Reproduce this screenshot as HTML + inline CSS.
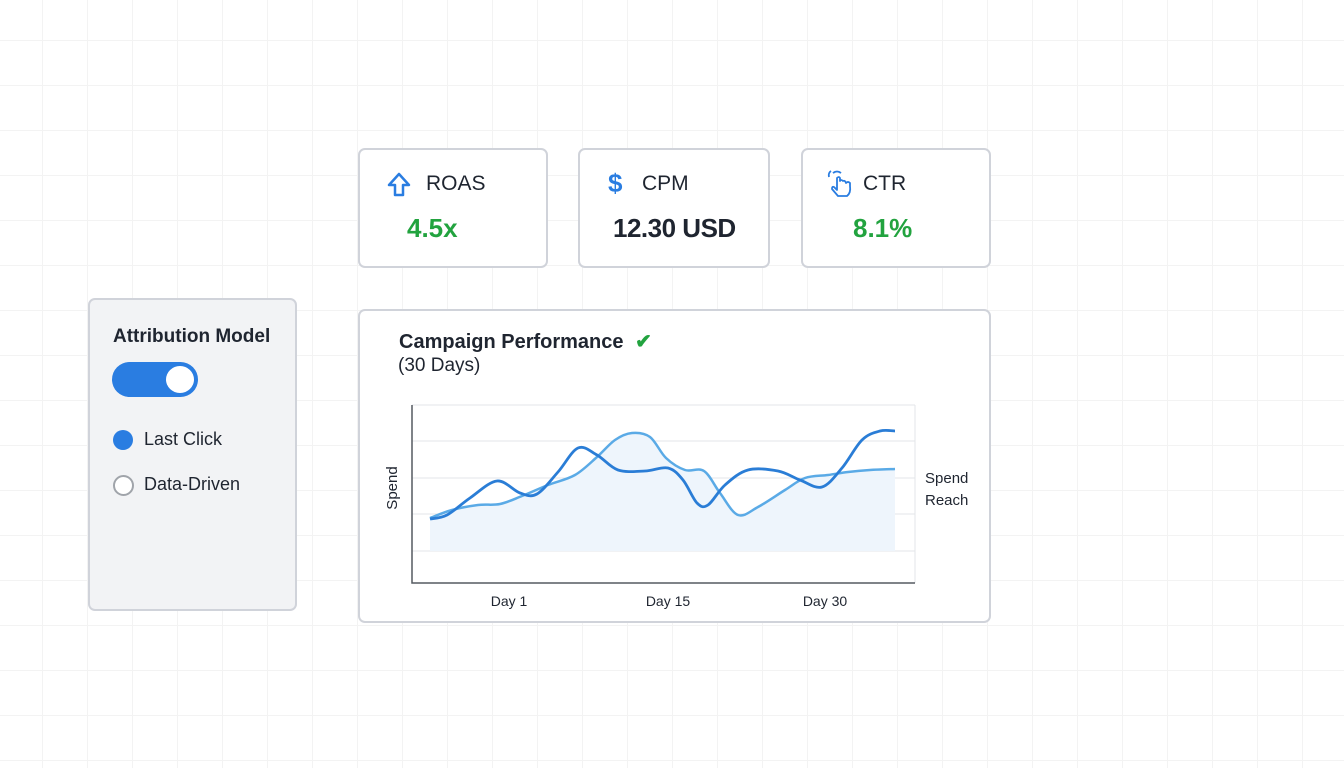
<!DOCTYPE html>
<html><head><meta charset="utf-8"><style>
body{margin:0;width:1344px;height:768px;overflow:hidden;background:#fff;font-family:"Liberation Sans",sans-serif;position:relative;
background-image:linear-gradient(to right,#f3f3f3 1px,transparent 1px),linear-gradient(to bottom,#f3f3f3 1px,transparent 1px);
background-size:45px 45px;background-position:42px 40px;}
.card{position:absolute;background:#fff;border:2px solid #d0d3da;border-radius:7px;box-sizing:border-box;}
.lbl{position:absolute;font-size:21px;color:#1f2530;}
.val{position:absolute;font-size:26px;font-weight:bold;}
</style></head><body>
<div class="card" style="left:358px;top:148px;width:190px;height:120px">
 <svg style="position:absolute;left:26px;top:22px" width="26" height="26" viewBox="0 0 26 26"><path d="M13 2 L23 13 L17 13 L17 23 L9 23 L9 13 L3 13 Z" fill="none" stroke="#2a7de1" stroke-width="2.5" stroke-linejoin="round"/></svg>
 <div class="lbl" style="left:66px;top:22px">ROAS</div>
 <div class="val" style="left:47px;top:63px;color:#22a33f">4.5x</div>
</div>
<div class="card" style="left:578px;top:148px;width:192px;height:120px">
 <div style="position:absolute;left:28px;top:18px;font-size:26px;font-weight:bold;color:#2a7de1">$</div>
 <div class="lbl" style="left:62px;top:22px">CPM</div>
 <div class="val" style="left:33px;top:63px;color:#1f2530;letter-spacing:-0.5px">12.30 USD</div>
</div>
<div class="card" style="left:801px;top:148px;width:190px;height:120px">
 <svg style="position:absolute;left:22px;top:18px" width="32" height="32" viewBox="0 0 32 32"><path d="M8 5 Q12 2 16 5 M4 9 Q3 5 6 3" fill="none" stroke="#2a7de1" stroke-width="1.8"/><path d="M12 10 L12 22 L9 19 Q7 18 7 21 L13 28 L22 28 Q26 25 25 18 L25 15 Q23 13 21 15 Q20 12 18 13 Q16 11 15 13 L15 10 Q14 8 12 10 Z" fill="none" stroke="#2a7de1" stroke-width="1.8" stroke-linejoin="round"/></svg>
 <div class="lbl" style="left:60px;top:22px">CTR</div>
 <div class="val" style="left:50px;top:63px;color:#22a33f">8.1%</div>
</div>
<div class="card" style="left:88px;top:298px;width:209px;height:313px;background:#f2f3f5">
 <div style="position:absolute;left:23px;top:26px;font-size:19px;font-weight:bold;color:#1f2530">Attribution Model</div>
 <div style="position:absolute;left:22px;top:62px;width:86px;height:35px;border-radius:18px;background:#2a7de1"></div>
 <div style="position:absolute;left:76px;top:66px;width:28px;height:27px;border-radius:50%;background:#fff"></div>
 <div style="position:absolute;left:23px;top:130px;width:20px;height:20px;border-radius:50%;background:#2a7de1"></div>
 <div style="position:absolute;left:54px;top:129px;font-size:18px;color:#1f2530">Last Click</div>
 <div style="position:absolute;left:23px;top:175px;width:17px;height:17px;border-radius:50%;border:2px solid #a0a4aa;background:#fff"></div>
 <div style="position:absolute;left:54px;top:174px;font-size:18px;color:#1f2530">Data-Driven</div>
</div>
<div class="card" style="left:358px;top:309px;width:633px;height:314px"></div>
<div style="position:absolute;left:399px;top:329px;font-size:20px;font-weight:bold;color:#1f2530">Campaign Performance <span style="color:#22a33f;margin-left:6px">✔</span></div>
<div style="position:absolute;left:398px;top:355px;font-size:19px;color:#1f2530">(30 Days)</div>
<svg style="position:absolute;left:0;top:0" width="1344" height="768">
 <g stroke="#e3e5e8" stroke-width="1"><line x1="412" y1="405" x2="915" y2="405"/><line x1="412" y1="441" x2="915" y2="441"/><line x1="412" y1="478" x2="915" y2="478"/><line x1="412" y1="514" x2="915" y2="514"/><line x1="412" y1="551" x2="915" y2="551"/><line x1="915" y1="405" x2="915" y2="583"/></g>
 <path id="fill" fill="#eef5fc"/>
 <path id="l2" fill="none" stroke="#5aaae6" stroke-width="2.5"/>
 <path id="l1" fill="none" stroke="#2a7dd6" stroke-width="2.8"/>
 <path d="M412 405 V583 H915" fill="none" stroke="#555a60" stroke-width="1.5"/>
 <g font-size="14" fill="#1f2530" font-family="Liberation Sans"><text x="509" y="606" text-anchor="middle">Day 1</text><text x="668" y="606" text-anchor="middle">Day 15</text><text x="825" y="606" text-anchor="middle">Day 30</text>
 <text x="925" y="483" font-size="15">Spend</text><text x="925" y="505" font-size="15">Reach</text>
 <text transform="translate(397,488) rotate(-90)" text-anchor="middle" font-size="15">Spend</text></g>
</svg>
<script>
function cr(p){let d="M"+p[0];for(let i=0;i<p.length-1;i++){const a=p[i-1]||p[i],b=p[i],c=p[i+1],e=p[i+2]||c;
d+=" C"+(b[0]+(c[0]-a[0])/6)+","+(b[1]+(c[1]-a[1])/6)+" "+(c[0]-(e[0]-b[0])/6)+","+(c[1]-(e[1]-b[1])/6)+" "+c;}return d;}
const s=[[430,519],[447,515],[470,498],[497,481],[520,493],[537,494],[558,472],[578,448],[597,455],[618,470],[645,471],[668,468],[683,480],[697,503],[708,505],[725,485],[748,470],[778,471],[800,480],[822,487],[842,468],[862,440],[880,431],[895,431]];
const r=[[430,518],[452,510],[478,505],[500,504],[522,496],[548,485],[575,475],[597,457],[615,440],[632,433],[650,437],[666,458],[685,470],[704,471],[720,493],[738,515],[758,507],[785,490],[805,478],[828,475],[848,472],[870,470],[895,469]];
document.getElementById('l1').setAttribute('d',cr(s));
document.getElementById('l2').setAttribute('d',cr(r));
document.getElementById('fill').setAttribute('d',cr(r)+" L895,551 L430,551 Z");
</script>
</body></html>
